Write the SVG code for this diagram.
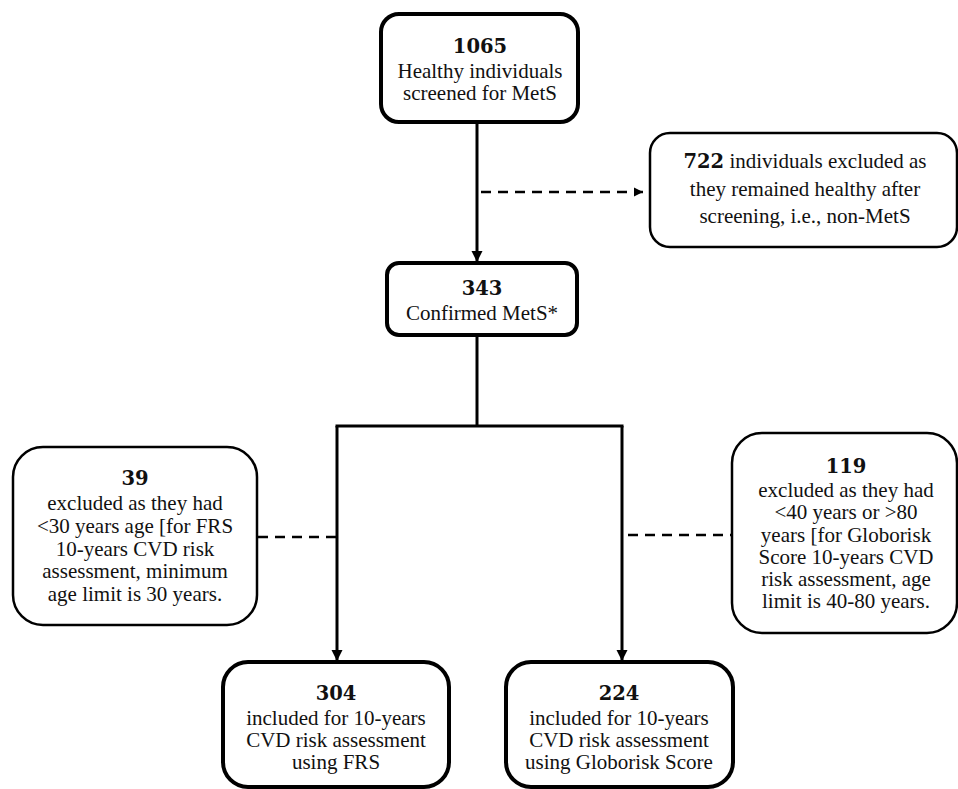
<svg xmlns="http://www.w3.org/2000/svg" width="958" height="789" viewBox="0 0 958 789">
<defs>
<style>
.thick{fill:#fff;stroke:#000;stroke-width:4}
.thin{fill:#fff;stroke:#000;stroke-width:2.5}
.t{font-family:"Liberation Serif","DejaVu Serif",serif;font-size:21px;fill:#111;text-anchor:middle}
.n{font-family:"DejaVu Serif","Liberation Serif",serif;font-weight:bold;font-size:19.5px;fill:#111}
.solid{stroke:#000;stroke-width:3;fill:none}
.dash{stroke:#000;stroke-width:2.6;fill:none;stroke-dasharray:10,7}
</style>
<marker id="ah" markerUnits="userSpaceOnUse" markerWidth="12" markerHeight="12" refX="11" refY="6" orient="auto">
<path d="M0,0.5 L11,6 L0,11.5 z" fill="#000"/>
</marker>
<marker id="ahs" markerUnits="userSpaceOnUse" markerWidth="10" markerHeight="10" refX="9" refY="5" orient="auto">
<path d="M0,0.5 L9,5 L0,9.5 z" fill="#000"/>
</marker>
</defs>
<g id="connectors">
<line class="solid" x1="477" y1="122" x2="477" y2="262" marker-end="url(#ah)"/>
<line class="dash" x1="481" y1="192" x2="643" y2="192" marker-end="url(#ahs)"/>
<polyline class="solid" points="477,335 477,426"/>
<polyline class="solid" points="335.5,426 623.5,426"/>
<line class="solid" x1="337" y1="426" x2="337" y2="661" marker-end="url(#ah)"/>
<line class="solid" x1="622" y1="426" x2="622" y2="661" marker-end="url(#ah)"/>
<line class="dash" x1="258" y1="537" x2="336" y2="537"/>
<line class="dash" x1="628" y1="535" x2="731" y2="535"/>
</g>
<g id="screened">
<rect class="thick" x="381" y="14" width="197" height="108" rx="18"/>
<text class="t" x="480" y="53"><tspan class="n">1065</tspan></text>
<text class="t" x="480" y="78">Healthy individuals</text>
<text class="t" x="480" y="100">screened for MetS</text>
</g>
<g id="excluded722">
<rect class="thin" x="650" y="133" width="307" height="114" rx="20"/>
<text class="t" x="805" y="168"><tspan class="n">722</tspan> individuals excluded as</text>
<text class="t" x="805" y="196">they remained healthy after</text>
<text class="t" x="805" y="223">screening, i.e., non-MetS</text>
</g>
<g id="confirmed">
<rect class="thick" x="387" y="263" width="190" height="72" rx="12"/>
<text class="t" x="482" y="295"><tspan class="n">343</tspan></text>
<text class="t" x="482" y="320">Confirmed MetS*</text>
</g>
<g id="excluded39">
<rect class="thin" x="13" y="447" width="244" height="178" rx="30"/>
<text class="t" x="135" y="485"><tspan class="n">39</tspan></text>
<text class="t" x="135" y="510">excluded as they had</text>
<text class="t" x="135" y="533">&lt;30 years age [for FRS</text>
<text class="t" x="135" y="556">10-years CVD risk</text>
<text class="t" x="135" y="578">assessment, minimum</text>
<text class="t" x="135" y="601">age limit is 30 years.</text>
</g>
<g id="excluded119">
<rect class="thin" x="732" y="433" width="225" height="200" rx="30"/>
<text class="t" x="846" y="473"><tspan class="n">119</tspan></text>
<text class="t" x="846" y="497">excluded as they had</text>
<text class="t" x="846" y="519">&lt;40 years or &gt;80</text>
<text class="t" x="846" y="542">years [for Globorisk</text>
<text class="t" x="846" y="564">Score 10-years CVD</text>
<text class="t" x="846" y="586">risk assessment, age</text>
<text class="t" x="846" y="608">limit is 40-80 years.</text>
</g>
<g id="frs">
<rect class="thick" x="223" y="662" width="226" height="125" rx="25"/>
<text class="t" x="336" y="700"><tspan class="n">304</tspan></text>
<text class="t" x="336" y="725">included for 10-years</text>
<text class="t" x="336" y="747">CVD risk assessment</text>
<text class="t" x="336" y="769">using FRS</text>
</g>
<g id="globorisk">
<rect class="thick" x="506" y="662" width="227" height="125" rx="25"/>
<text class="t" x="619" y="700"><tspan class="n">224</tspan></text>
<text class="t" x="619" y="725">included for 10-years</text>
<text class="t" x="619" y="747">CVD risk assessment</text>
<text class="t" x="619" y="769">using Globorisk Score</text>
</g>
</svg>
